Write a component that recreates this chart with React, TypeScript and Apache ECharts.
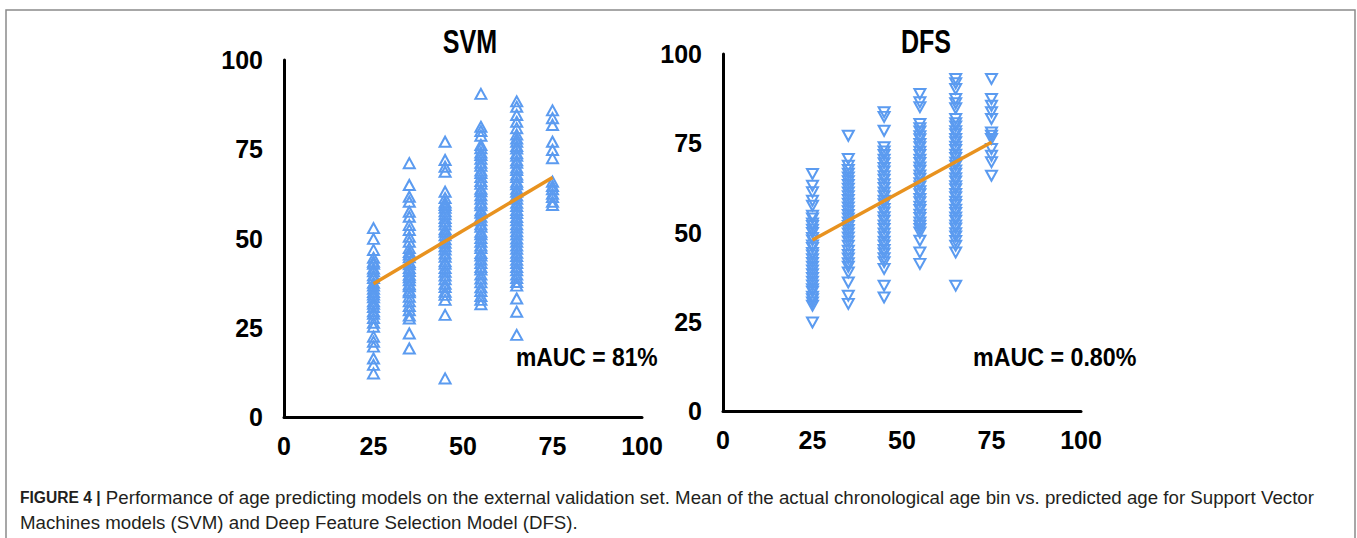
import React, { useEffect, useRef } from "react";
import * as echarts from "echarts";

const ageBins = [25, 35, 45, 55, 65, 75];

const svm25 = [52.9, 49.9, 46.8, 44.6, 43.5, 42.9, 41.6, 40.8, 39.7, 38.9, 37.6, 36.8, 35.9, 35.0, 34.3, 33.5, 32.4, 31.7, 30.8, 29.6, 28.9, 27.7, 26.4, 25.3, 22.5, 21.1, 19.7, 16.4, 14.6, 12.2];
const svm35 = [71.1, 65.0, 61.7, 60.3, 57.5, 56.1, 53.8, 52.4, 50.5, 49.1, 47.3, 46.2, 45.5, 44.7, 43.4, 42.8, 41.7, 40.9, 39.8, 39.1, 38.3, 37.2, 36.6, 35.4, 34.9, 33.7, 32.4, 31.1, 29.9, 28.4, 27.6, 23.4, 19.2];
const svm45 = [77.1, 72.0, 70.1, 68.7, 63.1, 61.3, 60.1, 59.4, 58.6, 57.6, 56.8, 55.7, 54.8, 53.9, 52.6, 51.9, 50.9, 49.8, 48.8, 47.8, 46.9, 45.8, 44.9, 43.6, 42.9, 41.7, 40.7, 39.6, 38.6, 37.3, 36.4, 35.1, 34.2, 32.8, 28.6, 10.8];
const svm55 = [90.5, 81.3, 80.1, 78.8, 76.2, 75.3, 74.1, 73.4, 72.3, 71.2, 70.4, 69.0, 68.3, 67.2, 66.1, 65.3, 63.9, 63.2, 62.1, 61.1, 60.0, 59.3, 57.9, 57.2, 56.1, 55.1, 54.0, 53.3, 51.9, 51.2, 50.1, 49.1, 48.0, 47.3, 45.9, 45.2, 44.1, 43.1, 42.0, 41.3, 39.9, 38.8, 37.7, 36.3, 35.3, 33.9, 32.8, 31.6];
const svm65 = [88.4, 86.9, 84.6, 82.7, 80.9, 79.1, 78.0, 77.1, 75.9, 75.2, 73.9, 73.2, 71.9, 71.2, 69.9, 69.2, 67.9, 67.2, 65.9, 65.2, 63.9, 63.1, 62.0, 61.1, 60.0, 59.1, 58.0, 57.1, 56.0, 55.1, 54.0, 53.1, 52.0, 51.1, 50.0, 49.1, 48.0, 47.1, 46.0, 45.1, 44.0, 43.1, 42.0, 41.1, 39.9, 38.9, 37.8, 36.8, 33.2, 29.5, 23.0];
const svm75 = [85.9, 83.7, 81.8, 77.1, 74.8, 72.5, 65.9, 64.7, 63.8, 62.5, 61.6, 60.3, 59.4];
const svmTrend = [37.3, 67.1];

const dfs25 = [66.4, 63.1, 61.3, 58.9, 57.5, 54.7, 53.9, 52.5, 51.8, 50.8, 49.9, 48.5, 47.8, 46.4, 45.7, 44.3, 43.6, 42.5, 41.5, 40.4, 39.4, 38.3, 37.3, 36.2, 35.2, 34.1, 33.4, 32.0, 31.3, 30.4, 29.5, 24.8];
const dfs35 = [77.1, 70.6, 68.7, 67.5, 66.5, 65.4, 64.4, 63.3, 62.3, 61.2, 60.2, 59.1, 58.1, 57.0, 56.0, 54.9, 53.9, 52.8, 51.8, 50.7, 49.7, 48.6, 47.5, 46.3, 44.9, 43.7, 42.7, 41.4, 40.4, 38.8, 36.0, 32.3, 30.0];
const dfs45 = [83.7, 82.4, 78.5, 73.9, 72.7, 71.7, 70.4, 69.4, 68.1, 67.1, 65.8, 64.8, 63.5, 62.5, 61.2, 60.2, 58.9, 57.9, 56.6, 55.6, 54.3, 53.3, 52.0, 51.0, 49.7, 48.7, 47.4, 46.4, 45.1, 44.1, 42.8, 41.7, 39.8, 35.1, 31.8];
const dfs55 = [88.8, 86.5, 85.1, 80.4, 79.2, 78.3, 77.0, 76.1, 74.8, 73.9, 72.6, 71.7, 70.4, 69.5, 68.2, 67.3, 66.0, 65.1, 63.8, 62.9, 61.6, 60.7, 59.4, 58.5, 57.2, 56.3, 55.0, 54.1, 52.8, 51.9, 51.0, 50.0, 47.7, 44.4, 41.2];
const dfs65 = [93.0, 91.8, 90.2, 87.4, 86.2, 84.8, 81.8, 80.6, 79.7, 78.4, 77.5, 76.2, 75.3, 74.0, 73.1, 71.8, 70.9, 69.6, 68.7, 67.4, 66.5, 65.2, 64.3, 63.0, 62.1, 60.8, 59.9, 58.6, 57.7, 56.4, 55.5, 54.2, 53.3, 52.0, 51.1, 49.8, 48.9, 47.6, 46.3, 44.4, 35.1];
const dfs75 = [93.0, 87.4, 85.5, 83.7, 81.8, 78.0, 77.1, 76.2, 73.4, 71.5, 69.7, 65.9];
const dfsTrend = [47.9, 75.3];

const axisTicks = ["0", "25", "50", "75", "100"];
const titles = ["SVM", "DFS"];
const aucLabels = ["mAUC = 81%", "mAUC = 0.80%"];
const captionBold = "FIGURE 4 |";
const captionLine1 = " Performance of age predicting models on the external validation set. Mean of the actual chronological age bin vs. predicted age for Support Vector";
const captionLine2 = "Machines models (SVM) and Deep Feature Selection Model (DFS).";

const BLUE = "#5B9BF0";
const ORANGE = "#E8921F";
const COND = '"Liberation Sans", Arial, sans-serif';
const CAP = '"Liberation Sans", Arial, sans-serif';

function toPoints(cols: number[][]) {
  const pts: number[][] = [];
  cols.forEach((col, i) => col.forEach((v) => pts.push([ageBins[i], v])));
  return pts;
}

export default function App() {
  const ref = useRef<HTMLDivElement>(null);
  useEffect(() => {
    if (!ref.current) return;
    const chart = echarts.init(ref.current, null, { renderer: "svg" });
    const axisLabel = {
      fontFamily: COND,
      fontWeight: "bold",
      fontSize: 25,
      color: "#000",
      formatter: (v: number) => (axisTicks.includes(String(v)) ? String(v) : ""),
    };
    const mkX = (gi: number) => ({
      type: "value",
      gridIndex: gi,
      min: 0,
      max: 100,
      interval: 25,
      axisLine: { show: true, lineStyle: { color: "#000", width: 3 } },
      axisTick: { show: false },
      splitLine: { show: false },
      axisLabel: { ...axisLabel, margin: 16 },
    });
    const mkY = (gi: number) => ({
      type: "value",
      gridIndex: gi,
      min: 0,
      max: 100,
      interval: 25,
      axisLine: { show: true, lineStyle: { color: "#000", width: 3 } },
      axisTick: { show: false },
      splitLine: { show: false },
      axisLabel: { ...axisLabel, margin: 21 },
    });
    const scatterStyle = {
      type: "scatter",
      symbolSize: [11, 10],
      itemStyle: { color: "rgba(0,0,0,0)", borderColor: BLUE, borderWidth: 2, opacity: 1 },
      z: 2,
    };
    const bigText = (x: number, y: number, text: string, size: number, sx: number, align: string) => ({
      type: "text",
      x,
      y,
      scaleX: sx,
      style: { text, fontFamily: COND, fontWeight: "bold", fontSize: size, fill: "#000", align, verticalAlign: "middle" },
    });
    chart.setOption({
      animation: false,
      backgroundColor: "#fff",
      grid: [
        { left: 284, top: 60, width: 358, height: 357 },
        { left: 723, top: 54, width: 358, height: 357 },
      ],
      xAxis: [mkX(0), mkX(1)],
      yAxis: [mkY(0), mkY(1)],
      series: [
        { ...scatterStyle, xAxisIndex: 0, yAxisIndex: 0, symbol: "triangle", data: toPoints([svm25, svm35, svm45, svm55, svm65, svm75]) },
        { ...scatterStyle, xAxisIndex: 1, yAxisIndex: 1, symbol: "triangle", symbolRotate: 180, data: toPoints([dfs25, dfs35, dfs45, dfs55, dfs65, dfs75]) },
        { type: "line", xAxisIndex: 0, yAxisIndex: 0, symbol: "none", lineStyle: { color: ORANGE, width: 3.5 }, data: [[ageBins[0], svmTrend[0]], [ageBins[5], svmTrend[1]]], z: 3 },
        { type: "line", xAxisIndex: 1, yAxisIndex: 1, symbol: "none", lineStyle: { color: ORANGE, width: 3.5 }, data: [[ageBins[0], dfsTrend[0]], [ageBins[5], dfsTrend[1]]], z: 3 },
      ],
      graphic: [
        { type: "rect", shape: { x: 6, y: 10, width: 1349, height: 560 }, style: { fill: "none", stroke: "#8a8a8a", lineWidth: 1.5 }, silent: true },
        bigText(470, 41, titles[0], 33, 0.76, "center"),
        bigText(926, 41, titles[1], 33, 0.76, "center"),
        bigText(516, 357, aucLabels[0], 25, 0.915, "left"),
        bigText(973, 357, aucLabels[1], 25, 0.93, "left"),
        {
          type: "text", x: 20, y: 497,
          style: {
            text: "{b|" + captionBold + "}" + captionLine1,
            fontFamily: CAP, fontSize: 18.7, fill: "#231f20", verticalAlign: "middle",
            rich: { b: { fontWeight: "bold", fontFamily: CAP, fontSize: 15.6, fill: "#231f20" } },
          },
        },
        { type: "text", x: 20, y: 522, style: { text: captionLine2, fontFamily: CAP, fontSize: 18.7, fill: "#231f20", verticalAlign: "middle" } },
      ],
    });
    return () => chart.dispose();
  }, []);
  return (
    <div style={{ position: "fixed", left: 0, top: 0, width: 1357, height: 538, background: "#fff" }}>
      <div ref={ref} style={{ width: 1357, height: 538 }} />
    </div>
  );
}
